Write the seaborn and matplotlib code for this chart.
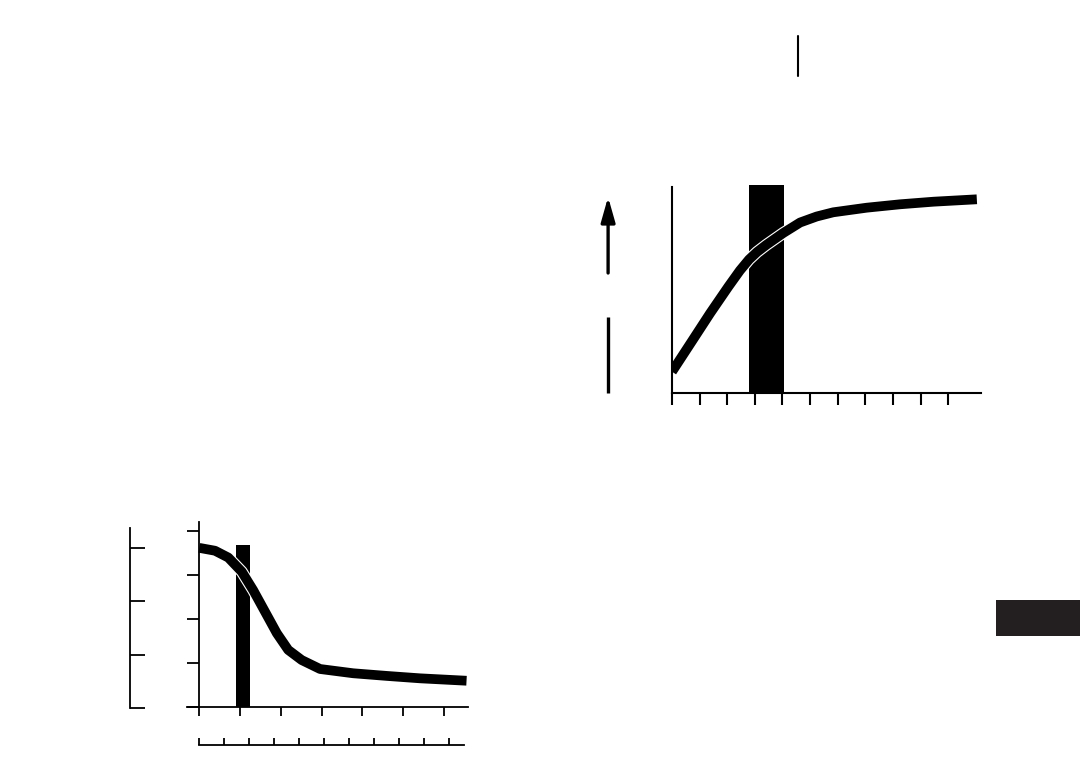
import numpy as np
import pandas as pd
import seaborn as sns
import matplotlib
matplotlib.use("Agg")
import matplotlib.pyplot as plt
import matplotlib.patheffects as pe
from matplotlib.lines import Line2D
from matplotlib.patches import Rectangle

# ---------------- data ----------------
# upper-right panel: rising curve
rise_x = [0.0, 0.71, 1.38, 2.04, 2.46, 2.79, 3.08, 3.41, 4.03, 4.64, 5.24, 5.84, 7.05, 8.26, 9.47, 11.04]
rise_y = [10.65, 25.65, 39.85, 53.15, 61.25, 66.75, 70.5, 74.0, 80.0, 85.25, 88.25, 90.35, 92.65, 94.35, 95.65, 96.85]
rise_band = [2.79, 4.05]
rise_xticks = list(range(11))

# lower-left panel: falling curve
fall_x = [0.0, 0.385, 0.71, 1.04, 1.32, 1.61, 1.90, 2.18, 2.51, 2.96, 3.77, 4.59, 5.41, 6.55]
fall_y = [3.61, 3.545, 3.39, 3.07, 2.65, 2.16, 1.67, 1.29, 1.06, 0.857, 0.76, 0.70, 0.645, 0.59]
fall_band = [0.90, 1.25]
fall_xticks = list(range(7))
fall_yticks = list(range(5))

# auxiliary scales of the lower-left panel
aux_yticks = list(range(4))
aux_xticks = list(range(11))

W, H = 1080, 782
sns.set_style("white")
plt.rcParams["font.family"] = ["DejaVu Sans"]

fig = plt.figure(figsize=(W / 100, H / 100), dpi=100)


def frac(x0, y_top, x1, y_bot):
    return [x0 / W, 1 - y_bot / H, (x1 - x0) / W, (y_bot - y_top) / H]


LW = 7.0
stroke = [pe.Stroke(linewidth=LW + 1.6, foreground="white"), pe.Normal()]

# ---------------- upper-right panel ----------------
ax1 = fig.add_axes(frac(672, 185, 980.7, 393))
ax1.bar((rise_band[0] + rise_band[1]) / 2, 104, width=rise_band[1] - rise_band[0],
        color="black", linewidth=0, zorder=1)
sns.lineplot(x=rise_x, y=rise_y, ax=ax1, color="black", lw=LW, sort=False,
             estimator=None, solid_capstyle="butt", solid_joinstyle="round",
             path_effects=stroke, zorder=2)
ax1.set_xlim(0, 11.18)
ax1.set_ylim(0, 104)
ax1.set_xticks(rise_xticks)
ax1.set_xticklabels([""] * len(rise_xticks))
ax1.set_yticks([])
for s in ["top", "right"]:
    ax1.spines[s].set_visible(False)
for s in ["left", "bottom"]:
    ax1.spines[s].set_linewidth(1.5)
    ax1.spines[s].set_color("black")
ax1.spines["left"].set_bounds(0, 103)
ax1.tick_params(axis="x", direction="out", length=8.6, width=1.5, color="black", bottom=True)
ax1.set_xlabel("")
ax1.set_ylabel("")

# direction arrow left of the upper panel
tr = ax1.get_yaxis_transform()
ax1.plot([-0.207, -0.207], [0, 38], transform=tr, clip_on=False, color="black",
         lw=2.4, solid_capstyle="butt")
ax1.annotate("", xy=(-0.207, 98), xytext=(-0.207, 60), xycoords=tr, textcoords=tr,
             annotation_clip=False,
             arrowprops=dict(arrowstyle="-|>,head_length=0.6,head_width=0.17",
                             mutation_scale=25, color="black", lw=2.4,
                             shrinkA=0, shrinkB=0))

# ---------------- lower-left panel ----------------
ax2 = fig.add_axes(frac(187, 522, 468, 706.7))
ax2.bar((fall_band[0] + fall_band[1]) / 2, 3.675, width=fall_band[1] - fall_band[0],
        color="black", linewidth=0, zorder=1)
sns.lineplot(x=fall_x, y=fall_y, ax=ax2, color="black", lw=LW, sort=False,
             estimator=None, solid_capstyle="butt", solid_joinstyle="round",
             path_effects=stroke, zorder=2)
ax2.set_xlim(-0.3015, 6.586)
ax2.set_ylim(0, 4.198)
ax2.set_xticks(fall_xticks)
ax2.set_xticklabels([""] * len(fall_xticks))
ax2.set_yticks(fall_yticks)
ax2.set_yticklabels([""] * len(fall_yticks))
for s in ["top", "right"]:
    ax2.spines[s].set_visible(False)
for s in ["left", "bottom"]:
    ax2.spines[s].set_linewidth(1.3)
    ax2.spines[s].set_color("black")
ax2.spines["left"].set_position(("data", 0))
ax2.tick_params(axis="x", direction="out", length=6.5, width=1.3, color="black", bottom=True)
ax2.tick_params(axis="y", direction="out", length=8.6, width=1.3, color="black", left=True)
ax2.set_xlabel("")
ax2.set_ylabel("")

# auxiliary vertical scale
ax3 = fig.add_axes(frac(130, 528, 180, 708))
ax3.set_ylim(0, 3.377)
ax3.set_yticks(aux_yticks)
ax3.set_yticklabels([""] * len(aux_yticks))
ax3.set_xticks([])
for s in ["top", "right", "bottom"]:
    ax3.spines[s].set_visible(False)
ax3.spines["left"].set_linewidth(1.3)
ax3.spines["left"].set_color("black")
ax3.tick_params(axis="y", direction="in", length=10.8, width=1.3, color="black", left=True)
ax3.patch.set_alpha(0)

# auxiliary horizontal scale
ax4 = fig.add_axes(frac(199.3, 720, 464, 745))
ax4.set_xlim(0, 10.6)
ax4.set_xticks(aux_xticks)
ax4.set_xticklabels([""] * len(aux_xticks))
ax4.set_yticks([])
for s in ["top", "right", "left"]:
    ax4.spines[s].set_visible(False)
ax4.spines["bottom"].set_linewidth(1.3)
ax4.spines["bottom"].set_color("black")
ax4.tick_params(axis="x", direction="in", length=5.0, width=1.3, color="black", bottom=True)
ax4.patch.set_alpha(0)

# page marks
fig.add_artist(Line2D([797.7 / W, 797.7 / W], [1 - 36 / H, 1 - 76 / H],
                      lw=1.5, color="black"))
fig.add_artist(Rectangle((996 / W, 1 - 636 / H), (W - 996) / W, 36 / H,
                         color="#231f20", lw=0))

fig.savefig("out.png", dpi=100)
